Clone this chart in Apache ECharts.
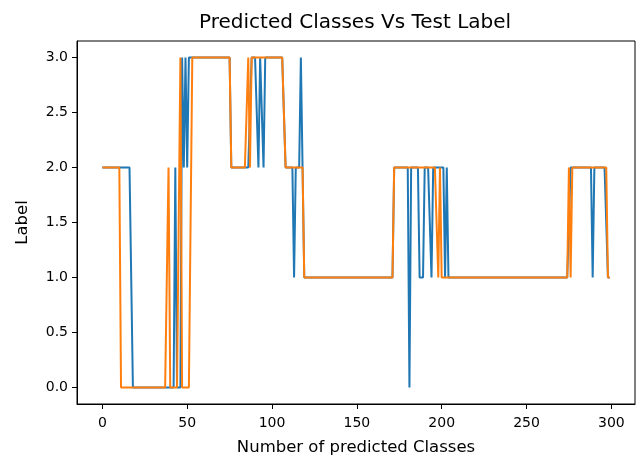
<!DOCTYPE html>
<html>
<head>
<meta charset="UTF-8">
<title>Predicted Classes Vs Test Label</title>
<script src="https://cdn.jsdelivr.net/npm/echarts@6/dist/echarts.min.js"></script>
<style>
  html, body { margin: 0; padding: 0; background: #fff; }
  #main { width: 640px; height: 456px; }
</style>
</head>
<body>
<div id="main"></div>
<script>
// values, one per sample index (0..299)
const predicted = [
  2,2,2,2,2,2,2,2,2,2,2,2,2,2,2,2,2,2,0,0,
  0,0,0,0,0,0,0,0,0,0,0,0,0,0,0,0,0,0,0,0,
  0,0,0,2,0,0,0,3,2,3,2,3,3,3,3,3,3,3,3,3,
  3,3,3,3,3,3,3,3,3,3,3,3,3,3,3,3,2,2,2,2,
  2,2,2,2,2,2,2,2,3,3,3,3,2,3,3,2,3,3,3,3,
  3,3,3,3,3,3,3,3,2,2,2,2,2,1,2,2,2,3,2,1,
  1,1,1,1,1,1,1,1,1,1,1,1,1,1,1,1,1,1,1,1,
  1,1,1,1,1,1,1,1,1,1,1,1,1,1,1,1,1,1,1,1,
  1,1,1,1,1,1,1,1,1,1,1,1,2,2,2,2,2,2,2,2,
  2,0,2,2,2,2,2,1,1,1,2,2,2,2,1,2,2,2,2,2,
  2,2,1,2,1,1,1,1,1,1,1,1,1,1,1,1,1,1,1,1,
  1,1,1,1,1,1,1,1,1,1,1,1,1,1,1,1,1,1,1,1,
  1,1,1,1,1,1,1,1,1,1,1,1,1,1,1,1,1,1,1,1,
  1,1,1,1,1,1,1,1,1,1,1,1,1,1,1,1,2,2,2,2,
  2,2,2,2,2,2,2,2,2,1,2,2,2,2,2,2,2,2,1,1
];
const testLabel = [
  2,2,2,2,2,2,2,2,2,2,2,0,0,0,0,0,0,0,0,0,
  0,0,0,0,0,0,0,0,0,0,0,0,0,0,0,0,0,0,0,2,
  0,0,0,0,0,0,3,0,0,0,0,0,0,3,3,3,3,3,3,3,
  3,3,3,3,3,3,3,3,3,3,3,3,3,3,3,3,2,2,2,2,
  2,2,2,2,2,2,3,2,3,3,3,3,3,3,3,3,3,3,3,3,
  3,3,3,3,3,3,3,3,2,2,2,2,2,2,2,2,2,2,2,1,
  1,1,1,1,1,1,1,1,1,1,1,1,1,1,1,1,1,1,1,1,
  1,1,1,1,1,1,1,1,1,1,1,1,1,1,1,1,1,1,1,1,
  1,1,1,1,1,1,1,1,1,1,1,1,2,2,2,2,2,2,2,2,
  2,2,2,2,2,2,2,2,2,2,2,2,2,2,2,2,2,2,1,2,
  1,1,1,1,1,1,1,1,1,1,1,1,1,1,1,1,1,1,1,1,
  1,1,1,1,1,1,1,1,1,1,1,1,1,1,1,1,1,1,1,1,
  1,1,1,1,1,1,1,1,1,1,1,1,1,1,1,1,1,1,1,1,
  1,1,1,1,1,1,1,1,1,1,1,1,1,1,1,2,1,2,2,2,
  2,2,2,2,2,2,2,2,2,2,2,2,2,2,2,2,2,2,1,1
];
const xTicks = [0, 50, 100, 150, 200, 250, 300];
const yTicks = [0, 0.5, 1, 1.5, 2, 2.5, 3];

const font = 'DejaVu Sans';
let chart = echarts.init(document.getElementById('main'));

let option = {
    animation: false,
    backgroundColor: '#fff',
    title: {
        text: 'Predicted Classes Vs Test Label',
        left: 199,
        top: 13,
        padding: 0,
        textStyle: { color: '#000', fontWeight: 'normal', fontSize: 20, fontFamily: font }
    },
    grid: {
        left: 77, right: 5, top: 41, bottom: 52,
        outerBoundsMode: 'none',
        show: true, borderColor: '#000', borderWidth: 1, backgroundColor: 'transparent'
    },
    xAxis: {
        type: 'value',
        min: -14.95,
        max: 313.95,
        name: 'Number of predicted Classes',
        nameLocation: 'middle',
        nameGap: 35,
        nameTextStyle: { color: '#000', fontSize: 16.5, fontFamily: font },
        splitLine: { show: false },
        axisLine: { onZero: false, lineStyle: { color: '#000', width: 1 } },
        axisTick: { customValues: xTicks, length: 5, lineStyle: { color: '#000' } },
        axisLabel: { customValues: xTicks, color: '#000', fontSize: 14, fontFamily: font, margin: 12 }
    },
    yAxis: {
        type: 'value',
        min: -0.15,
        max: 3.15,
        name: 'Label',
        nameLocation: 'middle',
        nameGap: 46,
        nameRotate: 90,
        nameTextStyle: { color: '#000', fontSize: 16.5, fontFamily: font },
        splitLine: { show: false },
        axisLine: { show: true, onZero: false, lineStyle: { color: '#000', width: 1 } },
        axisTick: { show: true, customValues: yTicks, length: 5, lineStyle: { color: '#000' } },
        axisLabel: {
            customValues: yTicks, color: '#000', fontSize: 14, fontFamily: font, margin: 9,
            formatter: v => v.toFixed(1)
        }
    },
    series: [
        {
            type: 'line',
            name: 'Predicted',
            showSymbol: false,
            data: predicted.map((v, i) => [i, v]),
            lineStyle: { color: '#1f77b4', width: 2 },
            itemStyle: { color: '#1f77b4' }
        },
        {
            type: 'line',
            name: 'Test',
            showSymbol: false,
            data: testLabel.map((v, i) => [i, v]),
            lineStyle: { color: '#ff7f0e', width: 2 },
            itemStyle: { color: '#ff7f0e' }
        }
    ]
};

chart.setOption(option);
</script>
</body>
</html>
